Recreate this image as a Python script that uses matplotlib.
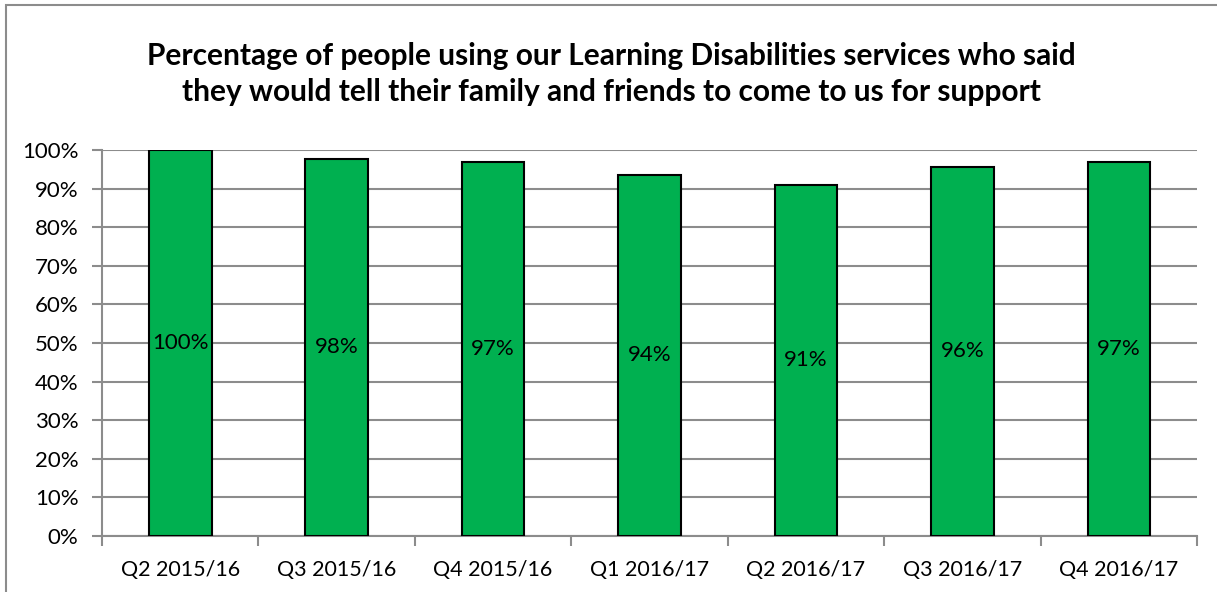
import matplotlib.pyplot as plt
from matplotlib.patches import Rectangle
from matplotlib.ticker import PercentFormatter

quarters = ['Q2 2015/16', 'Q3 2015/16', 'Q4 2015/16', 'Q1 2016/17',
            'Q2 2016/17', 'Q3 2016/17', 'Q4 2016/17']
pct_recommend = [100.0, 97.7, 96.9, 93.6, 91.0, 95.7, 96.9]

title = ('Percentage of people using our Learning Disabilities services who said\n'
         'they would tell their family and friends to come to us for support')

plt.rcParams['font.family'] = ['Lato', 'DejaVu Sans']

W, H = 1217, 592
fig = plt.figure(figsize=(W / 100, H / 100), dpi=100)

# plot area in pixel terms: x 102..1197, y 150..536
ax = fig.add_axes([102 / W, 1 - 536 / H, (1197 - 102) / W, (536 - 150) / H])

grid_col = '#8c8c8c'
x = list(range(len(quarters)))
ax.bar(x, pct_recommend, width=0.4, color='#00B050', edgecolor='black',
       linewidth=1.5, zorder=3)

for xi, v in zip(x, pct_recommend):
    ax.text(xi, v / 2, f'{v:.0f}%', ha='center', va='center', fontsize=16,
            color='black', zorder=4)

ax.set_xlim(-0.5, len(quarters) - 0.5)
ax.set_ylim(0, 100)
ax.set_yticks(range(0, 101, 10))
ax.yaxis.set_major_formatter(PercentFormatter(decimals=0))
ax.yaxis.grid(True, color=grid_col, linewidth=1.5, zorder=0)

# category labels between the boundary ticks
ax.set_xticks([i - 0.5 for i in range(len(quarters) + 1)])
ax.set_xticklabels([])
ax.set_xticks(x, minor=True)
ax.set_xticklabels(quarters, minor=True)
ax.tick_params(axis='x', which='minor', length=0, labelsize=15.5, pad=17)
ax.tick_params(axis='x', which='major', length=7, width=1.5, color=grid_col)
ax.tick_params(axis='y', length=7, width=1.5, color=grid_col, labelsize=16, pad=10)

for side in ['top', 'right']:
    ax.spines[side].set_visible(False)
for side in ['left', 'bottom']:
    ax.spines[side].set_color(grid_col)
    ax.spines[side].set_linewidth(1.5)

fig.text(611 / W, 1 - 74 / H, title, ha='center', va='center', fontsize=21.5,
         fontweight='bold', linespacing=1.33)

# chart frame
fig.patches.append(Rectangle((6 / W, -0.05), 1.1, 1.05 - 5 / H, transform=fig.transFigure,
                             fill=False, edgecolor='#8c8c8c', linewidth=1.5))

fig.savefig('out.png', dpi=100)
